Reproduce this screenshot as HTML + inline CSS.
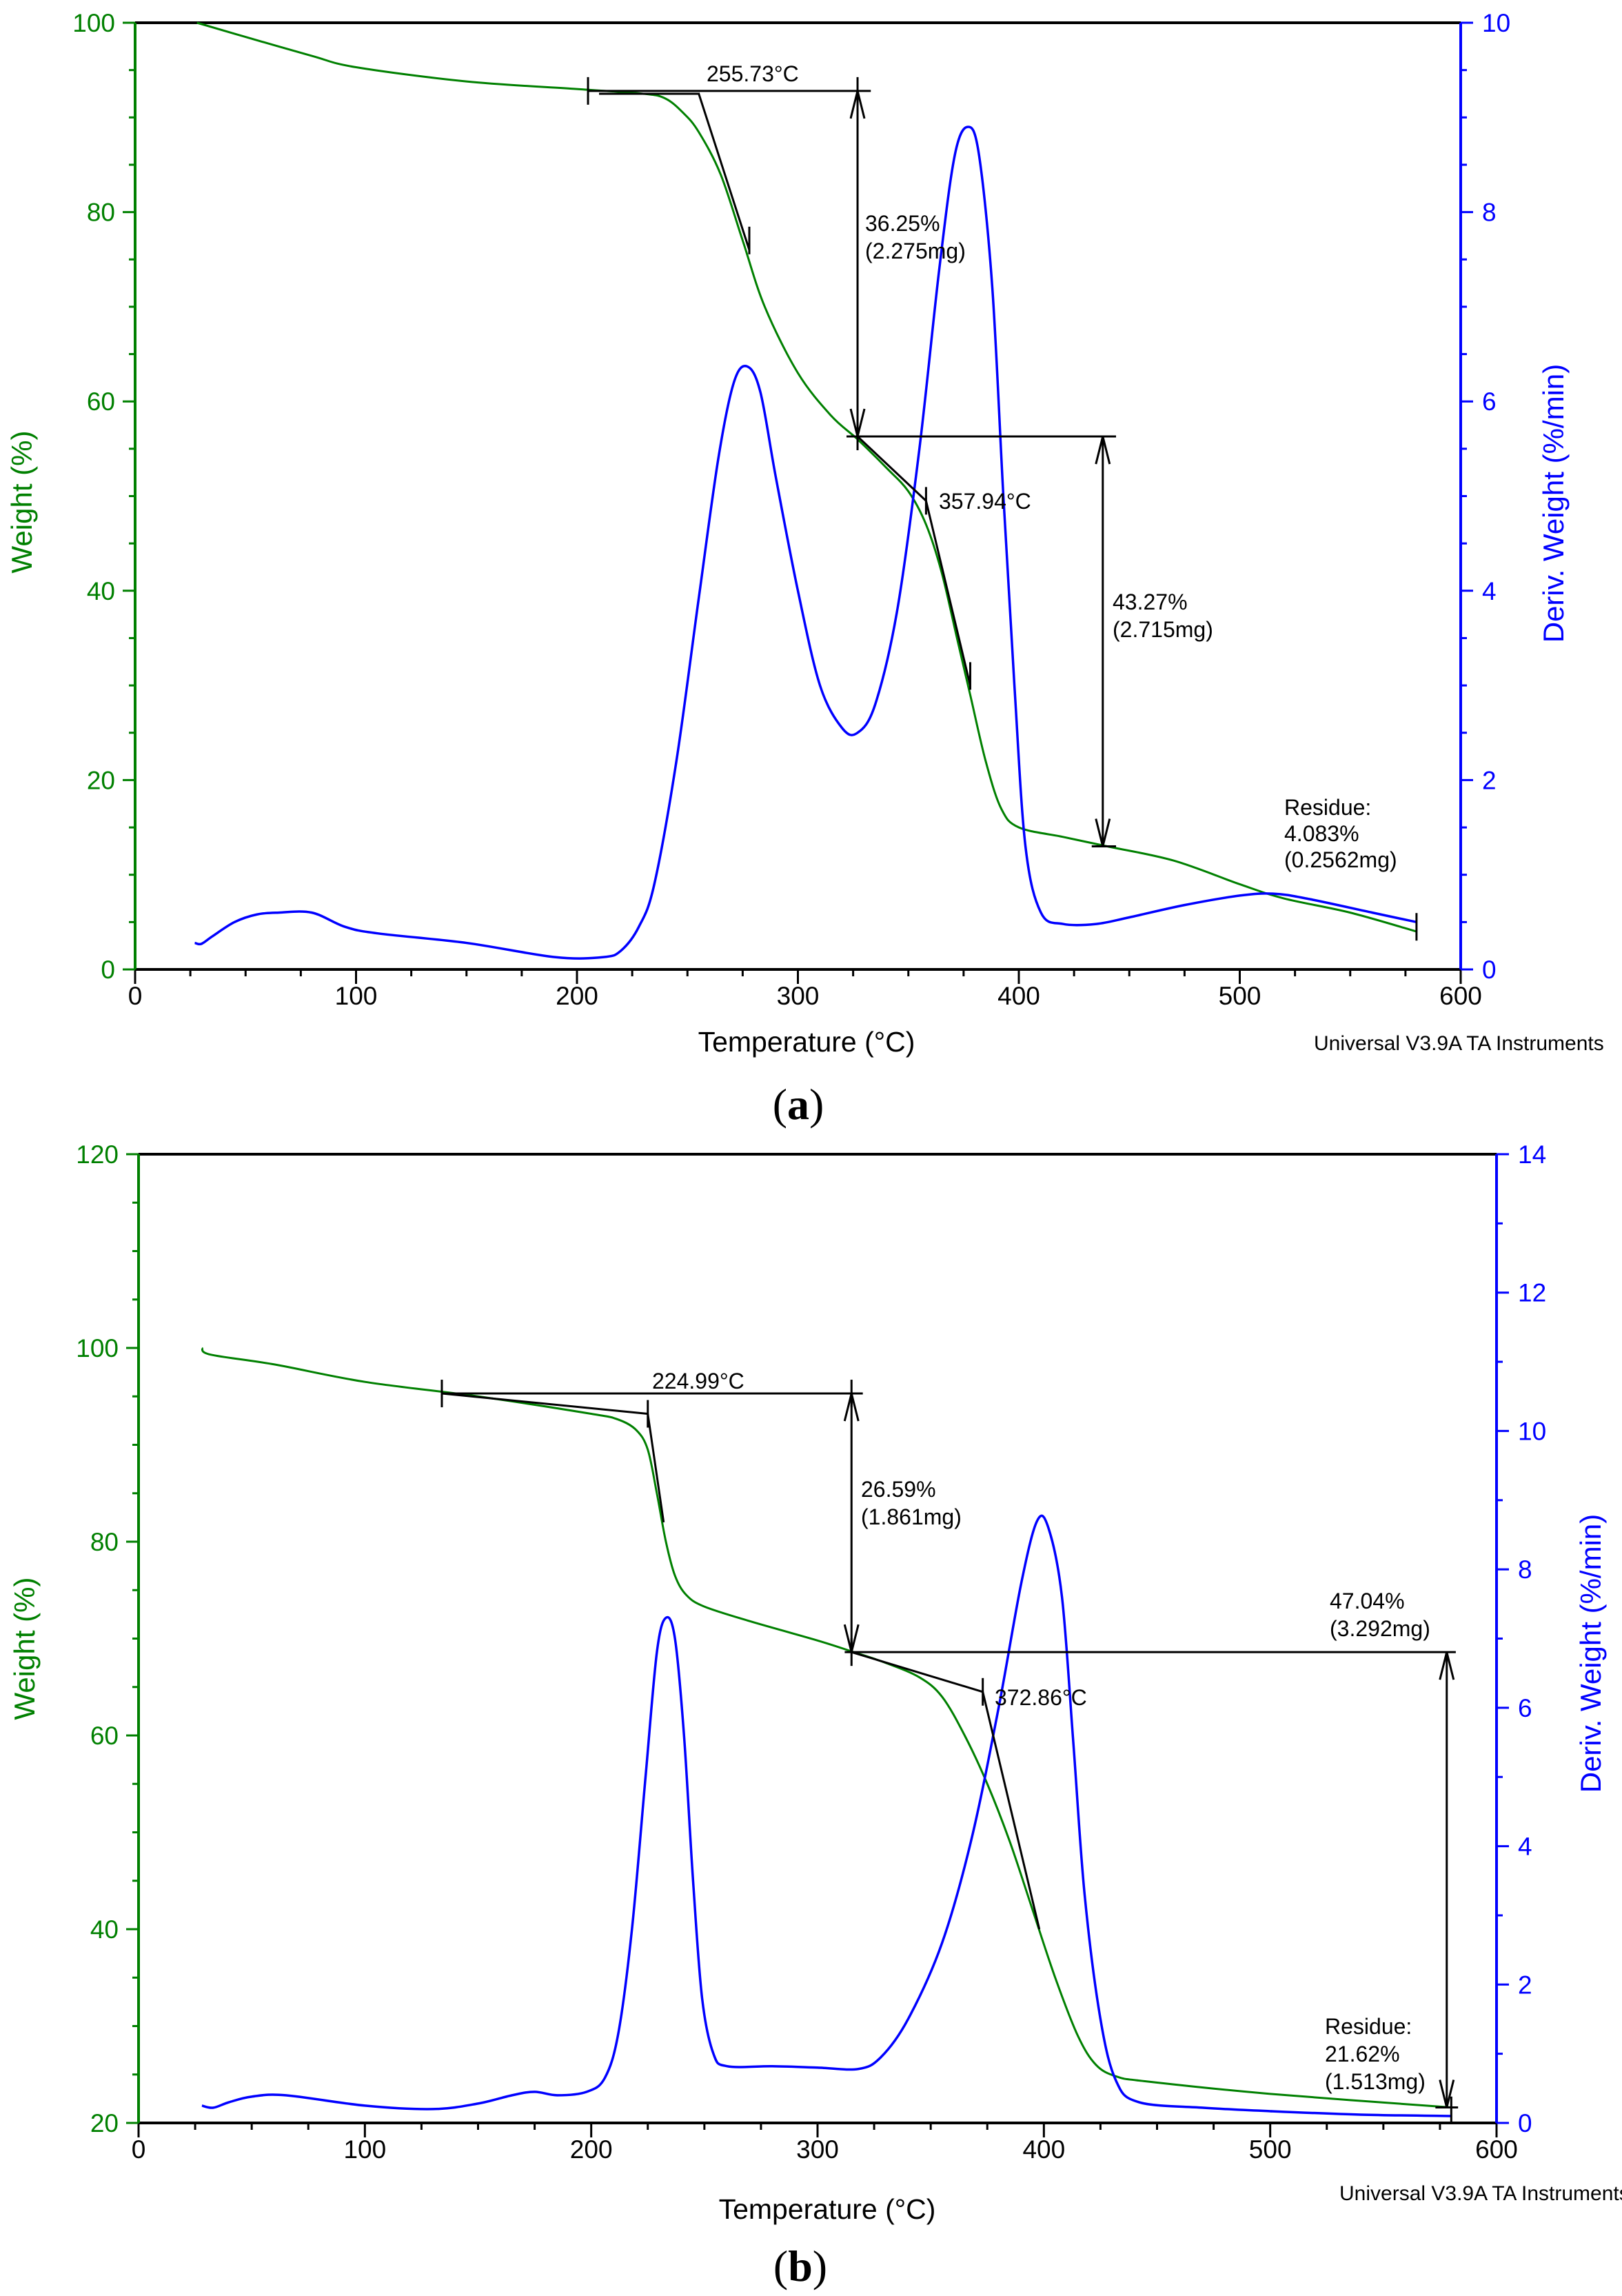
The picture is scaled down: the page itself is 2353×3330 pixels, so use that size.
<!DOCTYPE html>
<html><head><meta charset="utf-8"><style>
html,body{margin:0;padding:0;background:#fff;}
svg{display:block;}
text{font-family:"Liberation Sans",sans-serif;}
</style></head><body>
<svg id="s" xmlns="http://www.w3.org/2000/svg" width="2353" height="3330" viewBox="0 0 2353 3330">
<rect width="2353" height="3330" fill="#fff"/>
</svg>
<script>
const S=document.getElementById('s');const NS='http://www.w3.org/2000/svg';
function el(t,a,txt){const e=document.createElementNS(NS,t);for(const k in a)e.setAttribute(k,a[k]);if(txt!==undefined)e.textContent=txt;S.appendChild(e);return e;}
function line(x1,y1,x2,y2,c,w){el('line',{x1,y1,x2,y2,stroke:c,'stroke-width':w||3});}
function txt(x,y,s,o){const a=Object.assign({x,y,'font-size':33,fill:'#000'},o||{});el('text',a,s);}
function spline(pts){let d='M'+pts[0][0]+','+pts[0][1];
 for(let i=0;i<pts.length-1;i++){const p0=pts[Math.max(0,i-1)],p1=pts[i],p2=pts[i+1],p3=pts[Math.min(pts.length-1,i+2)];
  const c1=[p1[0]+(p2[0]-p0[0])/6,p1[1]+(p2[1]-p0[1])/6],c2=[p2[0]-(p3[0]-p1[0])/6,p2[1]-(p3[1]-p1[1])/6];
  d+=`C${c1[0]},${c1[1]} ${c2[0]},${c2[1]} ${p2[0]},${p2[1]}`;}
 return d;}
function plot(P){
 const X=t=>P.x0+(t)*(P.x1-P.x0)/600;
 const W=v=>P.y1-(v-P.wmin)*(P.y1-P.y0)/(P.wmax-P.wmin);
 const D=v=>P.y1-v*(P.y1-P.y0)/P.dmax;
 const G='#008000',B='#0000ff';
 line(P.x0,P.y0,P.x1,P.y0,'#000',4);
 line(P.x0,P.y1,P.x1,P.y1,'#000',4);
 line(P.x0,P.y0,P.x0,P.y1,G,4);
 line(P.x1,P.y0,P.x1,P.y1,B,4);
 for(let t=0;t<=600;t+=25){const m=t%100==0;line(X(t),P.y1,X(t),P.y1+(m?21:10),'#000',3);
  if(m)txt(X(t),P.y1+51,String(t),{'font-size':37,'text-anchor':'middle'});}
 for(let v=P.wmin;v<=P.wmax;v+=5){const m=(v-P.wmin)%20==0;line(P.x0,W(v),P.x0-(m?18:9),W(v),G,3);
  if(m)txt(P.x0-29,W(v)+13,String(v),{'font-size':37,'text-anchor':'end',fill:G});}
 for(let v=0;v<=P.dmax+1e-9;v+=P.dmin){const m=Math.abs(v%2)<1e-9;line(P.x1,D(v),P.x1+(m?18:9),D(v),B,3);
  if(m)txt(P.x1+31,D(v)+13,String(v),{'font-size':37,fill:B});}
 el('text',{x:0,y:0,'font-size':42,fill:G,'text-anchor':'middle',transform:`translate(${P.wlx},${P.wly}) rotate(-90)`},'Weight (%)');
 el('text',{x:0,y:0,'font-size':42,fill:B,'text-anchor':'middle',transform:`translate(${P.dlx},${P.dly}) rotate(-90)`},'Deriv. Weight (%/min)');
 txt(P.tx,P.ty,'Temperature (°C)',{'font-size':41,'text-anchor':'middle'});
 txt(P.ux,P.uy,'Universal V3.9A TA Instruments',{'font-size':30});
 const lab=el('text',{x:P.lx,y:P.ly,'font-size':64,'text-anchor':'middle',style:'font-family:"Liberation Serif",serif'});
 lab.innerHTML='(<tspan font-weight="bold">'+P.lab+'</tspan>)';
 el('path',{d:spline(P.w.map(p=>[X(p[0]),W(p[1])])),fill:'none',stroke:G,'stroke-width':3});
 el('path',{d:spline(P.d.map(p=>[X(p[0]),D(p[1])])),fill:'none',stroke:B,'stroke-width':3.5});
 const K='#000';
 P.ann.forEach(a=>{
  if(a[0]=='l')line(X(a[1]),W(a[2]),X(a[3]),W(a[4]),K,3);
  if(a[0]=='v'){const x=X(a[1]),ya=W(a[2]),yb=W(a[3]);line(x,ya,x,yb,K,3);
   el('path',{d:`M${x-10},${ya+40}L${x},${ya}L${x+10},${ya+40}M${x-10},${yb-40}L${x},${yb}L${x+10},${yb-40}`,fill:'none',stroke:K,'stroke-width':3});}
  if(a[0]=='tk'){const x=X(a[1]),y=W(a[2]);line(x,y-20,x,y+20,K,3);}
  if(a[0]=='t')txt(a[1],a[2],a[3],{'font-size':32});
 });
}
plot({x0:196,x1:2119,y0:33,y1:1406,wmin:0,wmax:100,dmax:10,dmin:0.5,
 wlx:46,wly:728,dlx:2268,dly:730,tx:1170,ty:1525,ux:1906,uy:1523,lx:1158,ly:1623,lab:'a',
 w:[[28,100],[50,98.5],[80,96.5],[100,95.3],[150,93.8],[200,93],[230,92.5],[240,92],[248,90.5],[255,88.5],[265,84],[275,77],[285,70],[300,63],[315,58.5],[327,56],[340,53],[350,50.5],[358,47],[365,42],[372,35],[378,29],[385,22],[392,17],[400,15],[420,14],[440,13],[470,11.5],[500,9],[520,7.5],[550,6],[580,4]],
 d:[[27,0.28],[30,0.27],[35,0.35],[45,0.5],[55,0.58],[65,0.6],[80,0.6],[95,0.45],[110,0.38],[150,0.28],[190,0.13],[212,0.13],[220,0.2],[228,0.45],[235,0.9],[245,2.2],[255,3.9],[264,5.4],[271,6.2],[277,6.37],[283,6.1],[290,5.2],[300,4],[310,3],[320,2.55],[327,2.5],[335,2.8],[345,3.8],[355,5.5],[364,7.4],[371,8.6],[377,8.9],[382,8.6],[388,7.2],[393,5],[398,3],[403,1.3],[410,0.6],[420,0.48],[435,0.48],[450,0.55],[475,0.68],[500,0.78],[515,0.8],[530,0.75],[560,0.6],[580,0.5]],
 ann:[['l',205,92.8,333,92.8],['tk',205,92.8],['l',210,92.5,255,92.5],['l',255,92.6,278,76],['tk',278,77],['v',327,92.8,56.3],['tk',327,92.8],
  ['l',322,56.3,444,56.3],['v',438,56.3,13],['tk',327,56.3],['l',327,56.3,358,49.5],['l',358,49.5,378,30],['tk',358,49.5],['tk',378,31],['l',433,13,444,13],['tk',580,4.5],
  ['t',1025,118,'255.73°C'],['t',1255,335,'36.25%'],['t',1255,375,'(2.275mg)'],['t',1362,738,'357.94°C'],['t',1614,884,'43.27%'],['t',1614,924,'(2.715mg)'],
  ['t',1863,1182,'Residue:'],['t',1863,1220,'4.083%'],['t',1863,1258,'(0.2562mg)']]
});
plot({x0:201,x1:2171,y0:1674,y1:3079,wmin:20,wmax:120,dmax:14,dmin:1,
 wlx:50,wly:2391,dlx:2322,dly:2398,tx:1200,ty:3218,ux:1943,uy:3191,lx:1161,ly:3308,lab:'b',
 w:[[28,100],[32,99.3],[60,98.3],[100,96.5],[150,95],[200,93.2],[212,92.6],[220,91.5],[225,89.5],[229,85],[233,80],[237,76.5],[242,74.5],[250,73.3],[270,71.8],[300,69.8],[316,68.6],[330,67.5],[345,66],[355,64],[365,60],[375,55],[385,49],[395,42],[405,35],[415,29],[423,26],[432,24.8],[445,24.3],[500,23],[580,21.6]],
 d:[[28,0.25],[33,0.22],[40,0.3],[50,0.38],[65,0.4],[100,0.25],[130,0.2],[150,0.28],[165,0.4],[175,0.45],[185,0.4],[198,0.45],[206,0.65],[212,1.3],[218,2.8],[224,5],[229,6.8],[233,7.3],[237,7],[241,5.6],[245,3.5],[249,1.8],[254,1.0],[260,0.82],[280,0.82],[300,0.8],[318,0.78],[328,0.95],[340,1.5],[355,2.6],[368,4.1],[380,6],[390,7.8],[397,8.7],[402,8.6],[408,7.6],[413,5.5],[418,3.3],[425,1.5],[432,0.6],[442,0.3],[470,0.22],[500,0.17],[540,0.12],[580,0.1]],
 ann:[['l',134,95.3,320,95.3],['tk',134,95.3],['l',134,95.3,225,93.2],['l',225,93.2,232,82],['tk',225,93.2],['v',315,95.3,68.6],['tk',315,95.3],
  ['l',312,68.6,582,68.6],['tk',315,68.6],['l',315,68.6,373,64.5],['l',373,64.5,398,40],['tk',373,64.5],['v',578,68.6,21.6],['l',573,21.6,583,21.6],['tk',580,21.3],
  ['t',946,2014,'224.99°C'],['t',1249,2171,'26.59%'],['t',1249,2211,'(1.861mg)'],['t',1443,2473,'372.86°C'],['t',1929,2333,'47.04%'],['t',1929,2373,'(3.292mg)'],
  ['t',1922,2950,'Residue:'],['t',1922,2990,'21.62%'],['t',1922,3030,'(1.513mg)']]
});
</script>
</body></html>
